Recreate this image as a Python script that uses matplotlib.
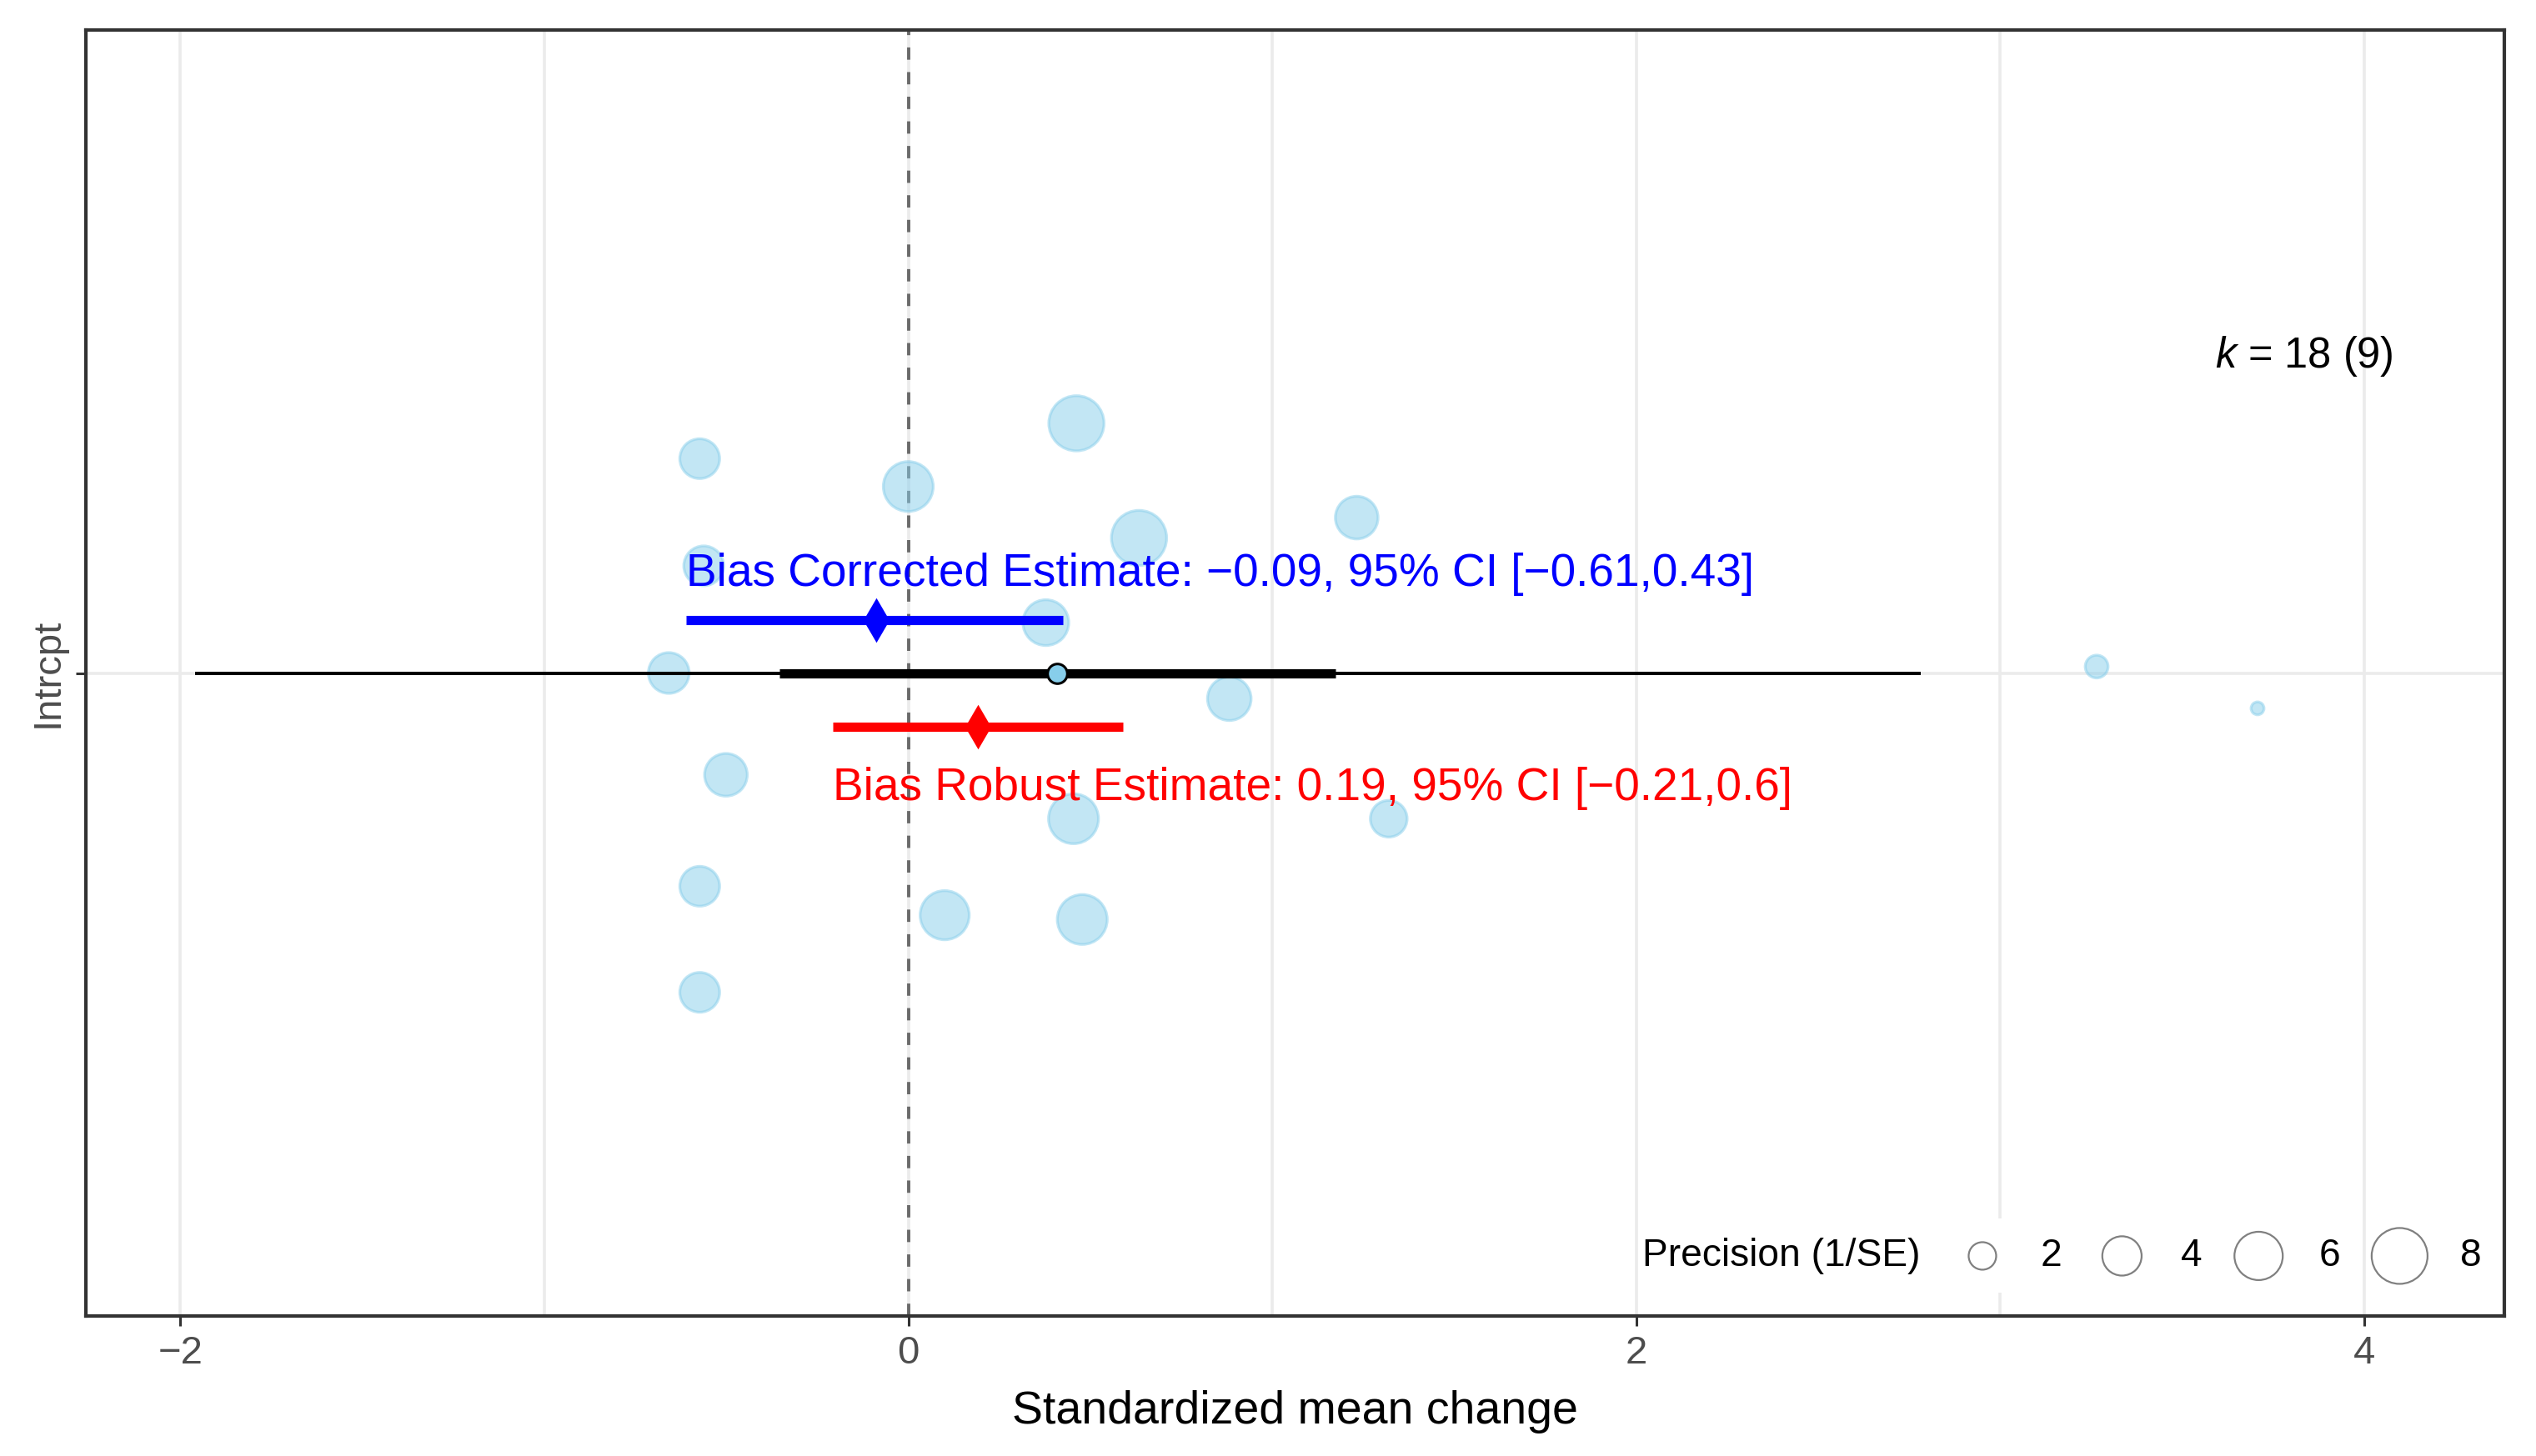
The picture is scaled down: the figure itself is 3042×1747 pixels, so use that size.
import numpy as np
import matplotlib
matplotlib.use("Agg")
import matplotlib.pyplot as plt
from matplotlib.patches import Rectangle

plt.rcParams['font.family'] = ['Liberation Sans', 'DejaVu Sans']
plt.rcParams['mathtext.fontset'] = 'custom'
plt.rcParams['mathtext.rm'] = 'Liberation Sans'
plt.rcParams['mathtext.it'] = 'Liberation Sans:italic'

DPI = 200

# --- data
effect = [-0.573, 0.0, 0.462, 0.634, 1.232, -0.562, 0.378, -0.658, 0.882,
          -0.501, 0.454, 1.320, -0.573, 0.100, 0.478, -0.573, 3.265, 3.707]
jitter_y = [1.200, 1.174, 1.233, 1.126, 1.145, 1.100, 1.047, 1.000, 0.976,
            0.905, 0.864, 0.864, 0.801, 0.774, 0.770, 0.702, 1.006, 0.967]
precision = [4.1, 6.4, 7.8, 7.8, 4.7, 4.1, 5.4, 4.3, 4.9,
             4.7, 6.4, 3.5, 4.1, 6.2, 6.4, 4.1, 1.4, 0.5]

# overall model
mean_est = 0.409
ci = [-0.353, 1.174]
pi = [-1.960, 2.782]

# bias corrected / robust
bc_est, bc_ci, bc_y = -0.088, [-0.61, 0.426], 1.049
br_est, br_ci, br_y = 0.192, [-0.207, 0.589], 0.950
bc_label = 'Bias Corrected Estimate: \u22120.09, 95% CI [\u22120.61,0.43]'
br_label = 'Bias Robust Estimate: 0.19, 95% CI [\u22120.21,0.6]'

k_label = r'$\mathit{k}$ = 18 (9)'
legend_breaks = [2, 4, 6, 8]


def prec_to_s(p):
    # area roughly linear in precision
    d_px = np.sqrt(567 * np.asarray(p, dtype=float) - 45)
    return (d_px * 72 / DPI) ** 2


fig = plt.figure(figsize=(3042 / DPI, 1747 / DPI), dpi=DPI)
ax = fig.add_axes([103 / 3042, 1 - 1579 / 1747, 2901 / 3042, 1543 / 1747])

ax.set_xlim(-2.2595, 4.385)
ax.set_ylim(0.4, 1.6)

ax.set_xticks([-2, 0, 2, 4])
ax.set_xticks([-1, 1, 3], minor=True)
ax.set_yticks([1])
ax.set_yticklabels(['Intrcpt'], rotation=90, va='center')
ax.grid(which='major', color='#EBEBEB', lw=1.3, zorder=0)
ax.grid(which='minor', axis='x', color='#EBEBEB', lw=1.3, zorder=0)
ax.set_axisbelow(True)
for sp in ax.spines.values():
    sp.set_color('#333333')
    sp.set_linewidth(1.5)
ax.tick_params(which='major', length=4.3, width=1.1, color='#333333',
               labelcolor='#4D4D4D', labelsize=17, pad=4)
ax.tick_params(which='minor', length=0)
ax.set_xlabel('Standardized mean change', fontsize=20, labelpad=8)

# zero line
ax.axvline(0, color='black', alpha=0.55, lw=1.4, ls=(0, (3.8, 3.8)), zorder=1)

# effect sizes
ax.scatter(effect, jitter_y, s=prec_to_s(precision), c='#87CEEB',
           edgecolors='#87CEEB', linewidths=1.2, alpha=0.5, zorder=2)

# prediction and confidence interval
ax.plot(pi, [1, 1], color='black', lw=1.45, solid_capstyle='butt', zorder=3)
ax.plot(ci, [1, 1], color='black', lw=4, solid_capstyle='butt', zorder=3)
ax.plot([mean_est], [1], 'o', ms=8.5, mfc='#87CEEB', mec='black', mew=1.1, zorder=4)

# bias estimates
ax.plot(bc_ci, [bc_y, bc_y], color='#0000FF', lw=4, solid_capstyle='butt', zorder=5)
ax.plot([bc_est], [bc_y], 'd', ms=12.2, color='#0000FF', zorder=5)
ax.plot(br_ci, [br_y, br_y], color='#FF0000', lw=4, solid_capstyle='butt', zorder=5)
ax.plot([br_est], [br_y], 'd', ms=12.2, color='#FF0000', zorder=5)
ax.text(bc_ci[0], 1.081, bc_label, color='#0000FF', fontsize=19.8,
        ha='left', va='baseline', zorder=6)
ax.text(br_ci[0], 0.8815, br_label, color='#FF0000', fontsize=19.8,
        ha='left', va='baseline', zorder=6)

ax.text(4.080, 1.2854, k_label, fontsize=18.2, ha='right', va='baseline', zorder=6)

# size legend (bottom right, inside panel)
leg_y = 0.0467
key_x = [0.7842, 0.8419, 0.8984, 0.9567]
lab_x = [0.8081, 0.8664, 0.9235, 0.9816]
ax.text(0.6436, leg_y, 'Precision (1/SE)', transform=ax.transAxes,
        fontsize=16.6, ha='left', va='center', zorder=7)
for kx, lx, b in zip(key_x, lab_x, legend_breaks):
    d_ax = np.sqrt(prec_to_s(b)) * DPI / 72 / 2901
    w = max(48 / 2901, d_ax + 10 / 2901)
    ax.add_patch(Rectangle((kx - w / 2, leg_y - 44.5 / 1543), w, 89 / 1543,
                           transform=ax.transAxes, facecolor='white',
                           edgecolor='none', zorder=6))
    ax.scatter([kx], [leg_y], s=prec_to_s(b), facecolors='none',
               edgecolors='#808080', linewidths=0.8, transform=ax.transAxes,
               zorder=7)
    ax.text(lx, leg_y, str(b), transform=ax.transAxes, fontsize=16.6,
            ha='left', va='center', zorder=7)

fig.savefig('out.png', dpi=DPI, facecolor='white')
